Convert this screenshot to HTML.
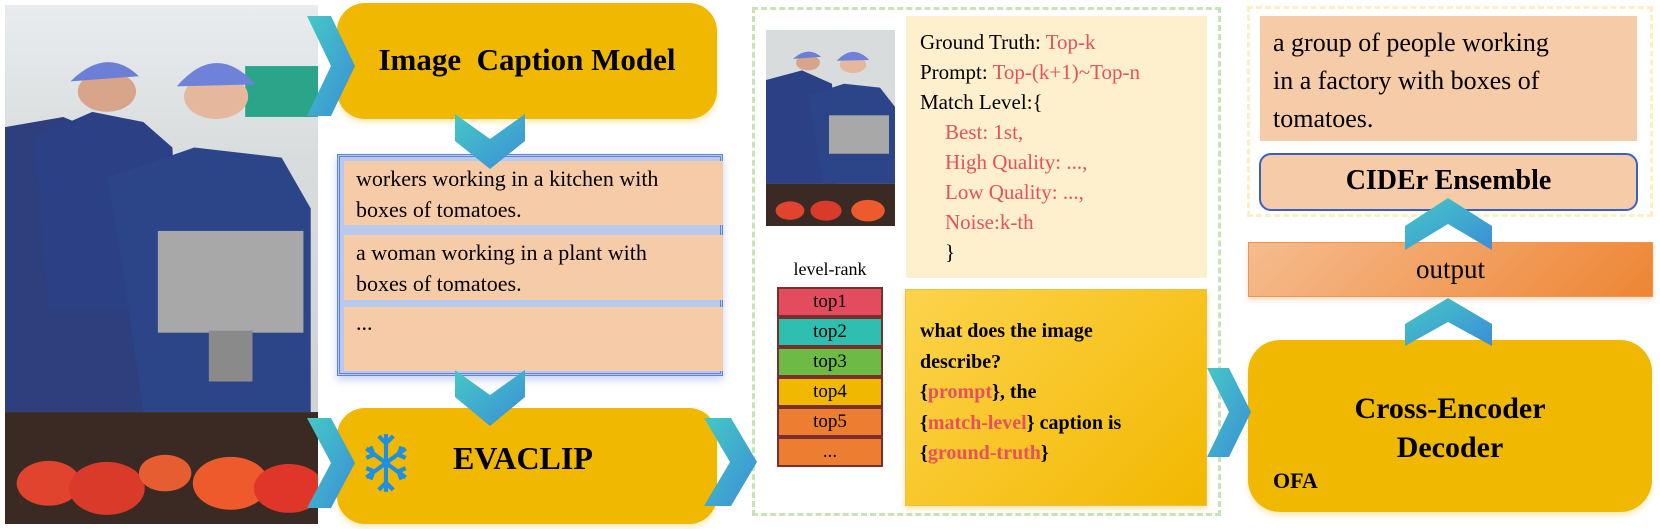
<!DOCTYPE html>
<html><head><meta charset="utf-8"><style>
*{margin:0;padding:0;box-sizing:border-box}
body{width:1660px;height:529px;background:#fff;position:relative;overflow:hidden;font-family:"Liberation Serif",serif;color:#000}
.a{position:absolute}
.ybox{background:#F0B800;border-radius:28px;box-shadow:0 4px 6px rgba(240,200,80,.35)}
.peach{background:#F6CBA8}
.t20{font-size:21px;line-height:30px}
.t22{font-size:22px;line-height:31px}
.red{color:#E8505E}
.b{font-weight:bold}
.rk{position:absolute;left:0;width:106px;height:30px;border:2px solid #7a2f2f;text-align:center;font-size:19px;line-height:26px}
</style></head><body>

<svg width="0" height="0" class="a"><defs>
<linearGradient id="cg" x1="0" y1="0" x2="1" y2="1"><stop offset="0" stop-color="#45C8C6"/><stop offset="1" stop-color="#3B8ED6"/></linearGradient>
</defs></svg>

<!-- photo -->
<svg class="a" style="left:5px;top:5px" width="313" height="519" viewBox="0 0 215 510" preserveAspectRatio="none">
<defs>
<linearGradient id="bg" x1="0" y1="0" x2="0" y2="1"><stop offset="0" stop-color="#e9ecef"/><stop offset="0.3" stop-color="#d8dcdc"/><stop offset="1" stop-color="#c9cfd0"/></linearGradient>
</defs>
<rect width="215" height="510" fill="url(#bg)"/>
<rect x="165" y="60" width="50" height="50" fill="#2aa58a"/>
<rect x="0" y="180" width="80" height="220" fill="#1ea38a"/>
<rect x="0" y="310" width="95" height="90" fill="#18b295"/>
<path d="M0 120 L40 110 L90 140 L110 240 L120 400 L0 400Z" fill="#2d3f7c"/>
<path d="M20 130 L60 105 L95 115 L115 140 L120 300 L30 300Z" fill="#2c4185"/>
<circle cx="70" cy="85" r="20" fill="#d8a58a"/>
<path d="M45 75 Q70 40 92 70 Z" fill="#6c7fd6"/>
<path d="M70 170 L130 140 L190 150 L210 200 L210 400 L95 400 L80 250Z" fill="#2c4488"/>
<circle cx="145" cy="90" r="22" fill="#e5b79d"/>
<path d="M118 80 Q145 35 172 78 Z" fill="#6f82d9"/>
<rect x="105" y="222" width="100" height="100" fill="#a8a8a8"/>
<rect x="140" y="320" width="30" height="50" fill="#8a8a8a"/>
<rect x="0" y="400" width="215" height="110" fill="#3b2a24"/>
<circle cx="30" cy="470" r="22" fill="#e0432e"/>
<circle cx="70" cy="475" r="26" fill="#d93a2a"/>
<circle cx="110" cy="460" r="18" fill="#e55d30"/>
<circle cx="155" cy="470" r="26" fill="#ef5a2c"/>
<circle cx="195" cy="475" r="24" fill="#e0362a"/>
</svg>

<!-- Image caption model -->
<div class="a ybox" style="left:337px;top:3px;width:380px;height:116px"></div>
<div class="a b" style="left:337px;top:40px;width:380px;text-align:center;font-size:31px;line-height:40px;white-space:nowrap">Image&nbsp; Caption Model</div>

<!-- caption list -->
<div class="a" style="left:337px;top:154px;width:386px;height:222px;border:3px double #5f85d8;background:#b9c9ee;box-shadow:0 4px 8px rgba(100,130,220,.35)"></div>
<div class="a peach t22" style="left:344px;top:161px;width:379px;height:64px;padding:2px 12px;white-space:nowrap">workers working in a kitchen with<br>boxes of tomatoes.</div>
<div class="a peach t22" style="left:344px;top:235px;width:379px;height:65px;padding:2px 12px;white-space:nowrap">a woman working in a plant with<br>boxes of tomatoes.</div>
<div class="a peach t22" style="left:344px;top:307px;width:379px;height:64px;padding:0 12px">...</div>

<!-- EVACLIP -->
<div class="a ybox" style="left:337px;top:408px;width:380px;height:116px"></div>
<svg class="a" style="left:364px;top:432px" width="44" height="62" viewBox="0 0 42 60" stroke="#1E90E0" stroke-width="4" fill="none">
<line x1="21" y1="2" x2="21" y2="58"/><line x1="2" y1="16" x2="40" y2="44"/><line x1="2" y1="44" x2="40" y2="16"/>
<polyline points="14,4 21,11 28,4"/><polyline points="14,56 21,49 28,56"/>
<polyline points="2,25 9,22 6,14"/><polyline points="40,35 33,38 36,46"/><polyline points="2,35 9,38 6,46"/><polyline points="40,25 33,22 36,14"/>
</svg>
<div class="a b" style="left:453px;top:438px;font-size:32px;line-height:40px">EVACLIP</div>

<!-- dashed green -->
<div class="a" style="left:752px;top:7px;width:469px;height:509px;border:3px dashed #c8e4b4"></div>

<!-- small photo -->
<svg class="a" style="left:766px;top:30px" width="129" height="196" viewBox="0 0 215 510" preserveAspectRatio="none">
<rect width="215" height="510" fill="#d9dcdc"/>
<rect x="0" y="180" width="90" height="220" fill="#1ea38a"/>
<path d="M0 130 L60 105 L110 140 L120 400 L0 400Z" fill="#2c4185"/>
<circle cx="70" cy="85" r="20" fill="#d8a58a"/><path d="M45 75 Q70 40 92 70 Z" fill="#6c7fd6"/>
<path d="M70 170 L130 140 L190 150 L215 200 L215 400 L95 400Z" fill="#2c4488"/>
<circle cx="145" cy="90" r="22" fill="#e5b79d"/><path d="M118 80 Q145 35 172 78 Z" fill="#6f82d9"/>
<rect x="105" y="222" width="100" height="100" fill="#a8a8a8"/>
<rect x="0" y="400" width="215" height="110" fill="#3b2a24"/>
<circle cx="40" cy="470" r="24" fill="#e0432e"/><circle cx="100" cy="470" r="26" fill="#d93a2a"/><circle cx="170" cy="470" r="28" fill="#ef5a2c"/>
</svg>

<!-- ground truth -->
<div class="a" style="left:906px;top:16px;width:301px;height:262px;background:#FEF0CC"></div>
<div class="a t20" style="left:920px;top:27px;white-space:nowrap">Ground Truth: <span class="red">Top-k</span><br>Prompt: <span class="red">Top-(k+1)~Top-n</span><br>Match Level:{<br><span class="red" style="padding-left:25px">Best: 1st,</span><br><span class="red" style="padding-left:25px">High Quality: ...,</span><br><span class="red" style="padding-left:25px">Low Quality: ...,</span><br><span class="red" style="padding-left:25px">Noise:k-th</span><br><span style="padding-left:25px">}</span></div>

<!-- level rank -->
<div class="a" style="left:777px;top:257px;width:106px;text-align:center;font-size:18px;line-height:24px">level-rank</div>
<div class="a" style="left:777px;top:287px;width:106px;height:180px">
<div class="rk" style="top:0;background:#E34C5E">top1</div>
<div class="rk" style="top:30px;background:#2FBFB0">top2</div>
<div class="rk" style="top:60px;background:#6DBB44">top3</div>
<div class="rk" style="top:90px;background:#F0B800">top4</div>
<div class="rk" style="top:120px;background:#ED7D31">top5</div>
<div class="rk" style="top:150px;background:#ED7D31">...</div>
</div>

<!-- question -->
<div class="a" style="left:905px;top:289px;width:302px;height:217px;background:linear-gradient(135deg,#FDD34C,#F2B800);border:1px solid #f0c040;box-shadow:0 3px 6px rgba(240,190,60,.4)"></div>
<div class="a b" style="left:920px;top:316px;font-size:20px;line-height:30.5px;white-space:nowrap">what does the image<br>describe?<br>{<span class="red">prompt</span>}, the<br>{<span class="red">match-level</span>} caption is<br>{<span class="red">ground-truth</span>}</div>

<!-- right dashed yellow -->
<div class="a" style="left:1247px;top:6px;width:406px;height:211px;border:3px dashed #FDEFC4"></div>
<div class="a peach" style="left:1260px;top:16px;width:377px;height:125px"></div>
<div class="a" style="left:1273px;top:24px;font-size:26px;line-height:38px;white-space:nowrap">a group of people working<br>in a factory with boxes of<br>tomatoes.</div>
<div class="a peach b" style="left:1259px;top:153px;width:379px;height:58px;border:2px solid #3a5fc0;border-radius:12px;text-align:center;font-size:28px;line-height:52px">CIDEr Ensemble</div>

<!-- output -->
<div class="a" style="left:1248px;top:242px;width:405px;height:55px;background:linear-gradient(135deg,#F5BC8E,#EE8533);border:1px solid #ef9550;text-align:center;font-size:27px;line-height:52px;box-shadow:0 3px 5px rgba(240,150,80,.3)">output</div>

<!-- cross encoder -->
<div class="a ybox" style="left:1248px;top:340px;width:404px;height:172px;border-radius:32px"></div>
<div class="a b" style="left:1248px;top:389px;width:404px;text-align:center;font-size:30px;line-height:39px">Cross-Encoder<br>Decoder</div>
<div class="a b" style="left:1273px;top:467px;font-size:22px;line-height:28px">OFA</div>

<!-- chevrons on top -->
<svg class="a" style="left:307px;top:16px" width="48" height="100" viewBox="0 0 48 100"><polygon points="0,0 24,0 48,50 24,100 0,100 24,50" fill="url(#cg)"/></svg>
<svg class="a" style="left:307px;top:418px" width="48" height="90" viewBox="0 0 48 90"><polygon points="0,0 24,0 48,45 24,90 0,90 24,45" fill="url(#cg)"/></svg>
<svg class="a" style="left:704px;top:418px" width="53" height="88" viewBox="0 0 53 88"><polygon points="0,0 27,0 53,44 27,88 0,88 26,44" fill="url(#cg)"/></svg>
<svg class="a" style="left:1207px;top:368px" width="44" height="89" viewBox="0 0 44 89"><polygon points="0,0 22,0 44,44 22,89 0,89 22,44" fill="url(#cg)"/></svg>
<svg class="a" style="left:455px;top:114px" width="70" height="55" viewBox="0 0 70 55"><polygon points="0,0 35,25 70,0 70,27 35,55 0,27" fill="url(#cg)"/></svg>
<svg class="a" style="left:455px;top:370px" width="70" height="56" viewBox="0 0 70 56"><polygon points="0,0 35,25 70,0 70,27 35,56 0,27" fill="url(#cg)"/></svg>
<svg class="a" style="left:1405px;top:198px" width="87" height="52" viewBox="0 0 87 52"><polygon points="0,28 43,0 87,28 87,52 43,26 0,52" fill="url(#cg)"/></svg>
<svg class="a" style="left:1405px;top:298px" width="87" height="48" viewBox="0 0 87 48"><polygon points="0,26 43,0 87,26 87,48 43,24 0,48" fill="url(#cg)"/></svg>

</body></html>
